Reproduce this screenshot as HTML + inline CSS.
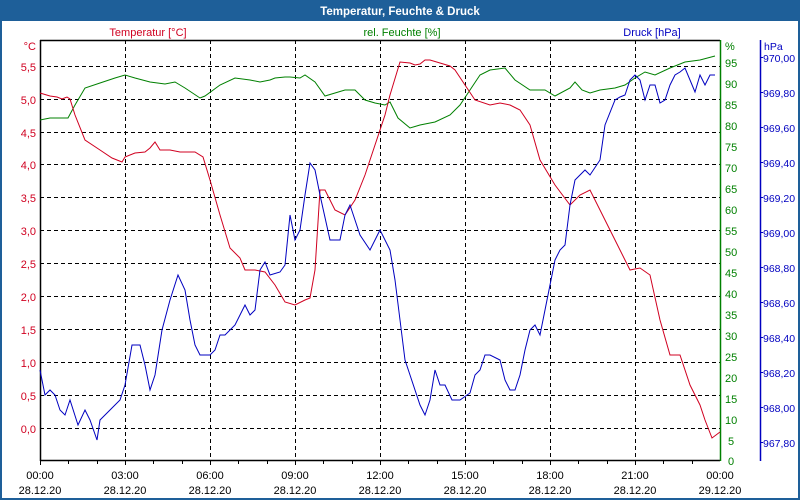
<!DOCTYPE html>
<html><head><meta charset="utf-8"><style>
html,body{margin:0;padding:0;background:#fff}
svg{display:block;font-family:"Liberation Sans",sans-serif}
</style></head><body>
<svg width="800" height="500" xmlns="http://www.w3.org/2000/svg">
<rect x="0" y="0" width="800" height="500" fill="#1e5f99"/>
<rect x="2" y="21" width="796" height="477" fill="#fff"/>
<text x="400" y="15" text-anchor="middle" font-size="11.5" font-weight="bold" fill="#fff">Temperatur, Feuchte &amp; Druck</text>
<g font-size="11">
<text x="148" y="36" text-anchor="middle" fill="#d00020">Temperatur [°C]</text>
<text x="402" y="36" text-anchor="middle" fill="#008000">rel. Feuchte [%]</text>
<text x="652" y="36" text-anchor="middle" fill="#0000c0">Druck [hPa]</text>
</g>
<g stroke="#000" stroke-dasharray="4,3" stroke-width="1">
<line x1="40" x2="720" y1="66.5" y2="66.5"/><line x1="40" x2="720" y1="99.5" y2="99.5"/>
<line x1="40" x2="720" y1="132.5" y2="132.5"/><line x1="40" x2="720" y1="164.5" y2="164.5"/>
<line x1="40" x2="720" y1="197.5" y2="197.5"/><line x1="40" x2="720" y1="230.5" y2="230.5"/>
<line x1="40" x2="720" y1="263.5" y2="263.5"/><line x1="40" x2="720" y1="296.5" y2="296.5"/>
<line x1="40" x2="720" y1="329.5" y2="329.5"/><line x1="40" x2="720" y1="362.5" y2="362.5"/>
<line x1="40" x2="720" y1="395.5" y2="395.5"/><line x1="40" x2="720" y1="428.5" y2="428.5"/>
<line y1="40" y2="460" x1="125.5" x2="125.5"/><line y1="40" y2="460" x1="210.5" x2="210.5"/>
<line y1="40" y2="460" x1="295.5" x2="295.5"/><line y1="40" y2="460" x1="380.5" x2="380.5"/>
<line y1="40" y2="460" x1="465.5" x2="465.5"/><line y1="40" y2="460" x1="550.5" x2="550.5"/>
<line y1="40" y2="460" x1="635.5" x2="635.5"/>
</g>
<g stroke="#000" stroke-width="1.5" fill="none">
<line x1="40" y1="40.5" x2="720" y2="40.5"/>
<line x1="40.5" y1="40" x2="40.5" y2="461"/>
<line x1="40" y1="460.5" x2="720" y2="460.5"/>
</g>
<g stroke="#000" stroke-width="1">
<line x1="40.5" y1="460" x2="40.5" y2="465"/><line x1="68.5" y1="460" x2="68.5" y2="464"/><line x1="97.5" y1="460" x2="97.5" y2="464"/><line x1="125.5" y1="460" x2="125.5" y2="465"/>
<line x1="153.5" y1="460" x2="153.5" y2="464"/><line x1="182.5" y1="460" x2="182.5" y2="464"/><line x1="210.5" y1="460" x2="210.5" y2="465"/>
<line x1="238.5" y1="460" x2="238.5" y2="464"/><line x1="267.5" y1="460" x2="267.5" y2="464"/><line x1="295.5" y1="460" x2="295.5" y2="465"/>
<line x1="323.5" y1="460" x2="323.5" y2="464"/><line x1="352.5" y1="460" x2="352.5" y2="464"/><line x1="380.5" y1="460" x2="380.5" y2="465"/>
<line x1="408.5" y1="460" x2="408.5" y2="464"/><line x1="437.5" y1="460" x2="437.5" y2="464"/><line x1="465.5" y1="460" x2="465.5" y2="465"/>
<line x1="493.5" y1="460" x2="493.5" y2="464"/><line x1="522.5" y1="460" x2="522.5" y2="464"/><line x1="550.5" y1="460" x2="550.5" y2="465"/>
<line x1="578.5" y1="460" x2="578.5" y2="464"/><line x1="607.5" y1="460" x2="607.5" y2="464"/><line x1="635.5" y1="460" x2="635.5" y2="465"/>
<line x1="663.5" y1="460" x2="663.5" y2="464"/><line x1="692.5" y1="460" x2="692.5" y2="464"/>
</g>
<line x1="720.5" y1="40" x2="720.5" y2="461" stroke="#008000" stroke-width="1.5"/>
<line x1="760.5" y1="40" x2="760.5" y2="461" stroke="#0000c0" stroke-width="1.5"/>
<g font-size="11" fill="#d00020" text-anchor="end">
<text x="36" y="50">°C</text>
<text x="36" y="71">5,5</text><text x="36" y="104">5,0</text><text x="36" y="137">4,5</text><text x="36" y="169">4,0</text>
<text x="36" y="202">3,5</text><text x="36" y="235">3,0</text><text x="36" y="268">2,5</text><text x="36" y="301">2,0</text>
<text x="36" y="334">1,5</text><text x="36" y="367">1,0</text><text x="36" y="400">0,5</text><text x="36" y="433">0,0</text>
</g>
<g font-size="11" fill="#008000">
<text x="725" y="50">%</text>
<text x="725" y="67">95</text><text x="725" y="88">90</text><text x="725" y="109">85</text><text x="725" y="130">80</text>
<text x="725" y="151">75</text><text x="725" y="172">70</text><text x="725" y="193">65</text><text x="725" y="214">60</text>
<text x="725" y="235">55</text><text x="725" y="256">50</text><text x="725" y="277">45</text><text x="725" y="298">40</text>
<text x="725" y="319">35</text><text x="725" y="340">30</text><text x="725" y="361">25</text><text x="725" y="382">20</text>
<text x="725" y="403">15</text><text x="725" y="424">10</text><text x="728" y="445">5</text><text x="728" y="465">0</text>
</g>
<g font-size="10.5" fill="#0000c0">
<text x="764" y="50">hPa</text>
<text x="763" y="62">970,00</text><text x="763" y="97">969,80</text><text x="763" y="132">969,60</text><text x="763" y="167">969,40</text>
<text x="763" y="202">969,20</text><text x="763" y="237">969,00</text><text x="763" y="272">968,80</text><text x="763" y="307">968,60</text>
<text x="763" y="342">968,40</text><text x="763" y="377">968,20</text><text x="763" y="412">968,00</text><text x="763" y="447">967,80</text>
</g>
<g stroke="#0000c0"><line x1="760" x2="763" y1="57.5" y2="57.5"/><line x1="760" x2="763" y1="92.5" y2="92.5"/><line x1="760" x2="763" y1="127.5" y2="127.5"/><line x1="760" x2="763" y1="162.5" y2="162.5"/><line x1="760" x2="763" y1="197.5" y2="197.5"/><line x1="760" x2="763" y1="232.5" y2="232.5"/><line x1="760" x2="763" y1="267.5" y2="267.5"/><line x1="760" x2="763" y1="302.5" y2="302.5"/><line x1="760" x2="763" y1="337.5" y2="337.5"/><line x1="760" x2="763" y1="372.5" y2="372.5"/><line x1="760" x2="763" y1="407.5" y2="407.5"/><line x1="760" x2="763" y1="442.5" y2="442.5"/></g>
<g font-size="11" fill="#000" text-anchor="middle">
<text x="40" y="479">00:00</text><text x="40" y="494">28.12.20</text>
<text x="125" y="479">03:00</text><text x="125" y="494">28.12.20</text>
<text x="210" y="479">06:00</text><text x="210" y="494">28.12.20</text>
<text x="295" y="479">09:00</text><text x="295" y="494">28.12.20</text>
<text x="380" y="479">12:00</text><text x="380" y="494">28.12.20</text>
<text x="465" y="479">15:00</text><text x="465" y="494">28.12.20</text>
<text x="550" y="479">18:00</text><text x="550" y="494">28.12.20</text>
<text x="635" y="479">21:00</text><text x="635" y="494">28.12.20</text>
<text x="720" y="479">00:00</text><text x="720" y="494">29.12.20</text>
</g>
<polyline fill="none" stroke="#008000" stroke-width="1" points="40,120 50,118 68,118 75,105 85,88 100,83 115,78 125,75 135,78 150,82 165,84 175,82 185,88 200,98 205,96 220,85 235,78 250,80 260,82 270,80 275,78 285,77 290,77 300,78 305,75 315,82 325,96 335,93 345,90 355,90 365,100 375,103 385,105 390,102 398,118 410,128 420,125 435,122 450,115 460,105 470,90 480,75 490,70 505,68 515,80 530,90 545,90 555,96 570,88 575,82 582,90 590,93 600,90 615,88 625,85 635,78 645,72 655,75 670,68 685,62 700,60 715,56"/>
<polyline fill="none" stroke="#d00020" stroke-width="1" points="40,93 50,96 57,97 62,99 67,97 70,99 75,115 85,140 100,150 112,158 122,162 125,157 135,153 145,152 150,148 155,142 160,150 170,150 180,152 195,152 203,157 210,180 220,215 230,248 240,258 245,270 255,270 265,272 275,285 285,302 295,305 305,300 310,298 315,270 320,190 325,190 335,210 345,215 355,200 365,175 375,145 385,115 390,95 400,62 410,63 415,65 420,64 425,60 430,60 440,63 450,66 455,70 465,85 475,100 490,105 500,103 510,105 520,110 530,125 540,160 555,185 570,205 580,195 590,190 600,210 615,240 630,270 640,268 650,275 660,320 670,355 680,355 690,385 700,405 705,420 712,438 720,432"/>
<polyline fill="none" stroke="#0000c0" stroke-width="1" points="40,370 45,395 50,390 55,395 60,410 65,415 70,400 78,425 85,410 90,420 97,440 100,420 110,410 120,400 125,385 132,345 140,345 145,365 150,390 155,375 162,330 170,300 178,275 185,290 190,320 195,345 200,355 210,355 215,350 220,335 225,335 235,325 240,315 245,305 250,315 255,310 260,270 265,262 270,275 280,272 285,265 290,215 295,240 300,230 305,195 310,163 315,170 320,195 330,240 340,240 345,215 350,205 360,235 370,250 380,230 390,250 395,280 400,320 405,360 410,375 420,405 425,415 430,400 435,370 440,385 445,385 452,400 460,400 470,393 475,375 480,370 485,355 490,355 500,360 505,380 510,390 515,390 520,375 525,350 530,330 535,325 540,335 545,310 550,285 555,260 560,250 565,245 570,205 575,180 580,175 585,170 590,175 600,160 605,125 615,100 620,97 625,95 630,80 635,75 640,80 645,100 650,85 655,85 660,103 665,100 670,85 675,75 680,72 685,68 690,80 695,92 700,75 705,85 710,75 715,75"/>
</svg>
</body></html>
